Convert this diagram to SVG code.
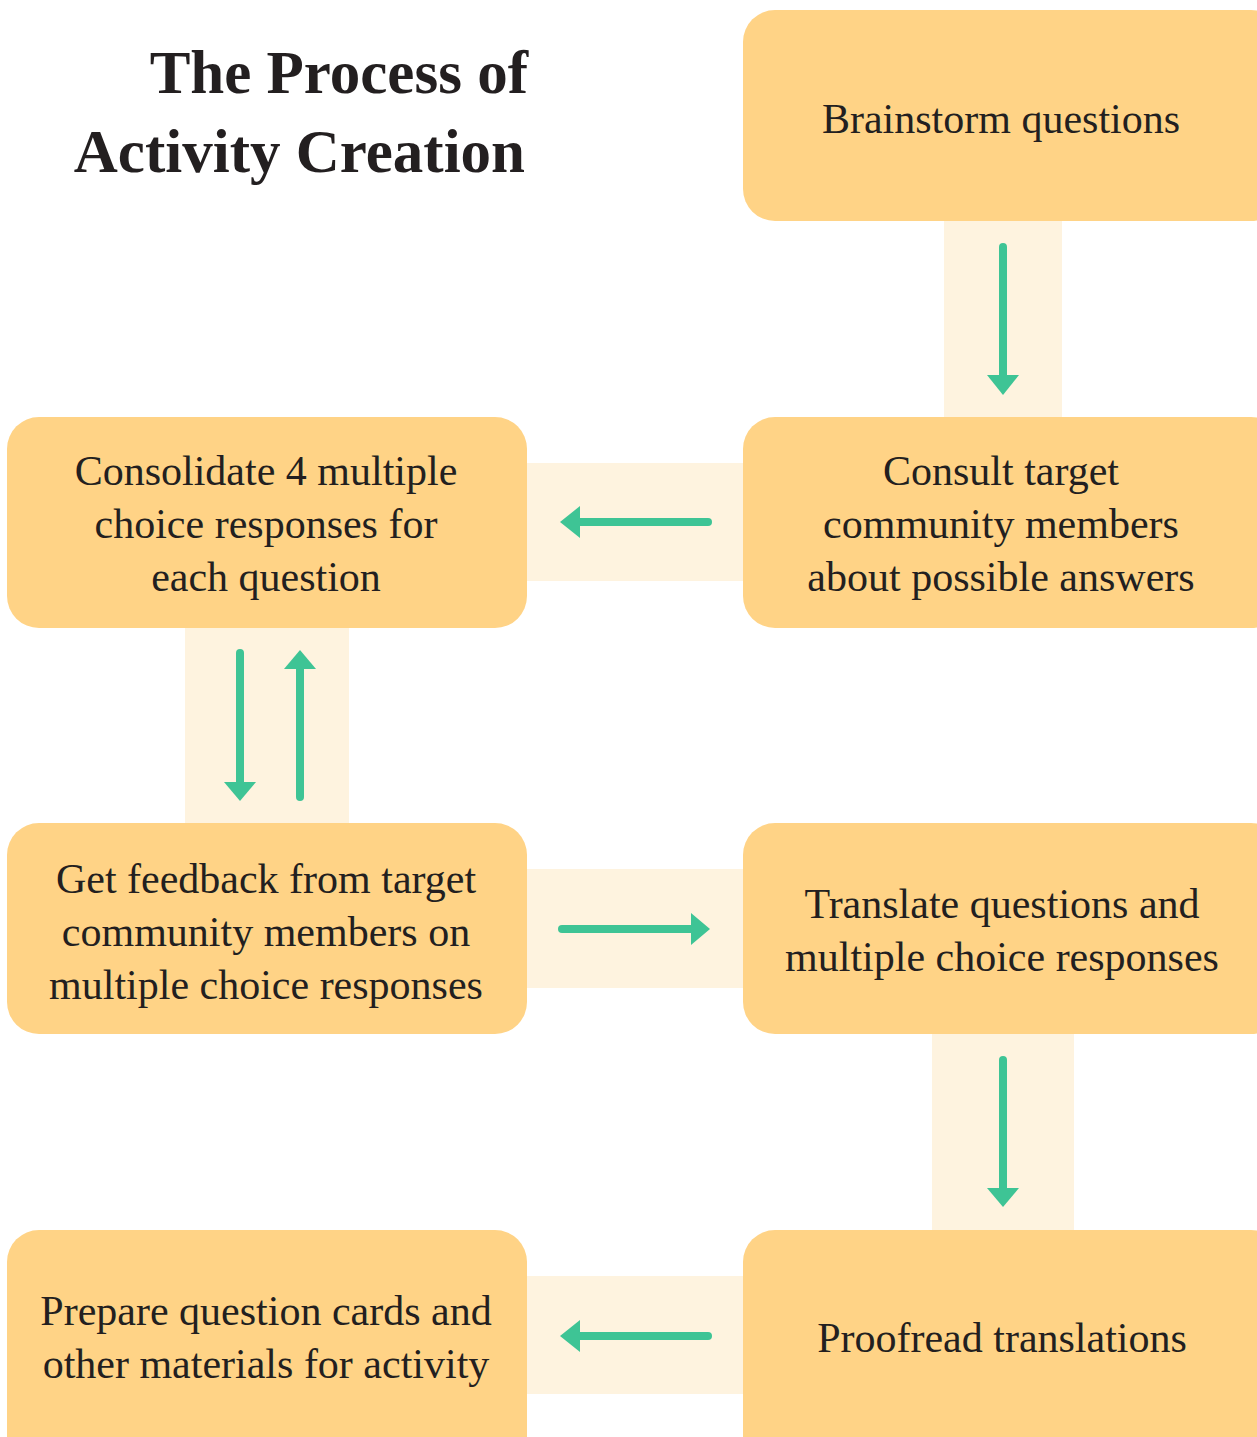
<svg xmlns="http://www.w3.org/2000/svg" width="1257" height="1437" viewBox="0 0 1257 1437">
<style>
.box{fill:#FFD386}
.band{fill:#FEF3DF}
.t{font-family:"Liberation Serif",serif;font-size:42px;fill:#231F20;text-anchor:middle}
.title{font-family:"Liberation Serif",serif;font-size:61px;font-weight:bold;fill:#231F20;text-anchor:end}
.arr{stroke:#3EC495;stroke-width:8;stroke-linecap:round;fill:none}
.head{fill:#3EC495}
</style>
<rect width="1257" height="1437" fill="#FFFFFF"/>
<g id="bands">
<rect class="band" x="944" y="215" width="118" height="208"/>
<rect class="band" x="520" y="463" width="230" height="118"/>
<rect class="band" x="185" y="622" width="164" height="207"/>
<rect class="band" x="520" y="869" width="230" height="119"/>
<rect class="band" x="932" y="1028" width="142" height="208"/>
<rect class="band" x="520" y="1276" width="230" height="118"/>
</g>
<g id="title">
<text class="title" x="528" y="93">The Process of</text>
<text class="title" x="525" y="172">Activity Creation</text>
</g>
<g id="n1"><rect class="box" x="743" y="10" width="540" height="211" rx="32"/>
<text class="t" x="1001" y="133">Brainstorm questions</text></g>
<g id="n2"><rect class="box" x="743" y="417" width="540" height="211" rx="32"/>
<text class="t" x="1001" y="485">Consult target</text>
<text class="t" x="1001" y="538">community members</text>
<text class="t" x="1001" y="591">about possible answers</text></g>
<g id="n3"><rect class="box" x="7" y="417" width="520" height="211" rx="32"/>
<text class="t" x="266" y="485">Consolidate 4 multiple</text>
<text class="t" x="266" y="538">choice responses for</text>
<text class="t" x="266" y="591">each question</text></g>
<g id="n4"><rect class="box" x="7" y="823" width="520" height="211" rx="32"/>
<text class="t" x="266" y="893">Get feedback from target</text>
<text class="t" x="266" y="946">community members on</text>
<text class="t" x="266" y="999">multiple choice responses</text></g>
<g id="n5"><rect class="box" x="743" y="823" width="540" height="211" rx="32"/>
<text class="t" x="1002" y="918">Translate questions and</text>
<text class="t" x="1002" y="971">multiple choice responses</text></g>
<g id="n6"><rect class="box" x="743" y="1230" width="540" height="240" rx="32"/>
<text class="t" x="1002" y="1352">Proofread translations</text></g>
<g id="n7"><rect class="box" x="7" y="1230" width="520" height="240" rx="32"/>
<text class="t" x="266" y="1325">Prepare question cards and</text>
<text class="t" x="266" y="1378">other materials for activity</text></g>
<g id="connectors">
<line class="arr" x1="1003" y1="247" x2="1003" y2="378"/>
<polygon class="head" points="987,375 1019,375 1003,395"/>
<line class="arr" x1="708" y1="522" x2="578" y2="522"/>
<polygon class="head" points="580,506 580,538 560,522"/>
<line class="arr" x1="240" y1="653" x2="240" y2="784"/>
<polygon class="head" points="224,782 256,782 240,801"/>
<line class="arr" x1="300" y1="797" x2="300" y2="668"/>
<polygon class="head" points="284,669 316,669 300,650"/>
<line class="arr" x1="562" y1="929" x2="692" y2="929"/>
<polygon class="head" points="691,913 691,945 710,929"/>
<line class="arr" x1="1003" y1="1060" x2="1003" y2="1190"/>
<polygon class="head" points="987,1188 1019,1188 1003,1207"/>
<line class="arr" x1="708" y1="1336" x2="578" y2="1336"/>
<polygon class="head" points="580,1320 580,1352 560,1336"/>
</g>
</svg>
